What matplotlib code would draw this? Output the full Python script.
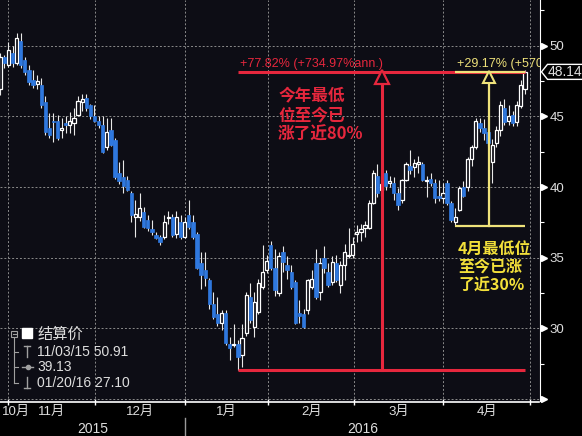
import numpy as np
import matplotlib
matplotlib.use("Agg")
import matplotlib.pyplot as plt
import matplotlib.transforms as mtransforms
from matplotlib.patches import Polygon, Rectangle
from matplotlib.lines import Line2D

plt.rcParams['font.family'] = ['Liberation Sans', 'Noto Sans CJK SC', 'DejaVu Sans']

# 结算价 K线数据 (按交易日排列)
opens = [46.9, 49.2, 48.6, 49.5, 48.8, 50.3, 49.0, 48.3, 47.6, 47.3,
         47.2, 46.0, 44.2, 44.7, 44.7, 44.0, 44.5, 44.4, 44.5, 45.1,
         46.0, 46.3, 45.8, 45.0, 44.7, 44.4, 42.8, 44.0, 43.3, 41.0,
         40.7, 40.5, 39.6, 37.9, 37.9, 38.2, 37.7, 37.0, 36.6, 36.5,
         36.5, 37.8, 37.9, 36.7, 37.5, 36.5, 38.0, 37.5, 36.7, 34.6,
         34.1, 33.4, 31.7, 31.0, 30.4, 31.1, 28.9, 28.8, 28.9, 28.1,
         29.7, 32.2, 30.1, 31.2, 32.9, 34.1, 35.9, 34.3, 32.5, 35.4,
         34.5, 34.0, 33.3, 31.1, 31.0, 31.3, 32.9, 34.6, 32.6, 35.0,
         34.0, 33.3, 34.6, 33.1, 34.5, 35.1, 35.2, 36.7, 36.8, 37.1,
         37.1, 38.9, 40.8, 39.8, 41.0, 40.3, 40.3, 39.6, 39.1, 40.5,
         41.5, 41.4, 41.6, 41.6, 40.4, 40.6, 40.3, 39.4, 39.2, 40.3,
         38.9, 37.5, 38.4, 40.0, 40.0, 42.0, 42.8, 44.5, 44.2, 43.9,
         41.8, 43.1, 44.0, 45.6, 44.7, 45.1, 44.6, 45.7, 46.9]
highs = [49.5, 49.3, 50.25, 50.0, 50.91, 50.9, 49.2, 48.6, 48.3, 47.9,
         47.7, 46.4, 45.2, 45.2, 45.1, 44.9, 45.0, 45.3, 45.6, 46.4,
         46.6, 46.6, 45.9, 45.8, 45.0, 45.0, 44.9, 44.9, 43.5, 41.8,
         41.9, 40.8, 39.7, 39.1, 39.6, 38.6, 38.0, 37.7, 36.8, 36.6,
         38.0, 38.3, 38.1, 38.3, 38.0, 37.9, 39.1, 38.0, 36.8, 35.4,
         35.4, 33.6, 32.6, 32.2, 31.3, 31.3, 29.4, 30.3, 29.2, 30.3,
         32.6, 33.2, 32.6, 33.5, 35.9, 35.2, 36.2, 35.6, 35.4, 35.8,
         35.1, 34.5, 33.4, 32.0, 31.4, 33.5, 34.1, 35.6, 35.0, 35.8,
         34.6, 35.1, 35.2, 34.8, 36.0, 37.1, 36.5, 37.3, 37.4, 37.6,
         39.1, 41.2, 41.6, 40.8, 41.2, 40.8, 40.7, 39.9, 40.6, 41.8,
         42.6, 42.0, 42.2, 41.8, 40.8, 41.0, 40.6, 40.5, 40.3, 40.5,
         39.0, 38.5, 40.1, 40.4, 42.1, 43.0, 44.9, 44.9, 44.8, 44.2,
         43.4, 44.3, 46.1, 46.2, 45.8, 45.4, 46.1, 47.6, 48.3]
lows = [46.5, 48.4, 48.5, 48.5, 48.6, 48.4, 47.9, 47.2, 47.0, 46.9,
        45.6, 43.7, 43.5, 43.2, 43.3, 43.5, 43.8, 43.8, 43.7, 45.0,
        45.4, 45.4, 44.8, 44.6, 44.2, 42.4, 42.6, 42.9, 40.6, 40.2,
        39.6, 39.7, 37.5, 36.5, 37.6, 37.1, 36.9, 36.6, 36.3, 35.9,
        36.3, 37.4, 36.5, 36.4, 36.3, 36.4, 37.0, 36.3, 34.2, 32.8,
        33.0, 31.4, 30.7, 30.2, 29.9, 28.8, 27.8, 28.7, 27.10, 27.25,
        29.5, 30.4, 29.4, 31.0, 32.8, 33.9, 34.1, 32.3, 32.3, 34.0,
        33.5, 32.8, 30.3, 30.4, 30.0, 31.0, 32.8, 32.1, 32.0, 33.9,
        32.9, 33.1, 33.3, 32.5, 33.4, 35.0, 35.0, 36.1, 36.2, 36.5,
        37.0, 38.8, 39.3, 39.4, 39.8, 40.0, 39.1, 38.4, 38.9, 40.4,
        40.9, 40.7, 41.0, 40.4, 39.3, 40.1, 38.9, 39.0, 38.9, 38.7,
        37.5, 37.27, 38.3, 39.3, 39.7, 41.5, 42.7, 43.9, 43.3, 42.9,
        40.3, 42.8, 43.6, 44.4, 44.4, 44.3, 44.3, 45.6, 46.6]
closes = [49.2, 48.8, 49.7, 48.8, 50.5, 48.6, 48.1, 47.4, 47.2, 47.5,
          45.8, 43.9, 43.7, 44.6, 43.5, 44.2, 44.4, 44.7, 44.9, 46.1,
          46.2, 45.6, 45.0, 44.7, 44.4, 42.5, 43.9, 43.0, 40.7, 40.4,
          40.1, 39.8, 38.0, 38.1, 38.5, 37.2, 37.1, 36.8, 36.4, 36.1,
          37.5, 37.9, 36.6, 37.9, 36.5, 37.5, 37.2, 36.5, 34.3, 33.8,
          33.6, 31.7, 30.8, 30.4, 31.1, 29.0, 28.6, 28.9, 28.0, 29.3,
          32.4, 30.6, 31.9, 33.2, 34.0, 34.8, 34.3, 32.7, 35.1, 34.7,
          34.1, 32.9, 30.4, 30.9, 30.1, 33.4, 33.5, 32.2, 34.6, 34.3,
          33.1, 34.7, 33.4, 34.5, 35.4, 35.2, 36.0, 36.8, 37.0, 37.3,
          38.9, 41.0, 39.6, 40.2, 40.1, 40.4, 39.6, 38.7, 40.5, 41.6,
          41.2, 41.7, 41.8, 40.5, 40.5, 40.3, 39.2, 39.2, 39.6, 38.9,
          37.7, 37.9, 39.9, 39.4, 42.0, 42.8, 44.7, 44.2, 43.8, 43.1,
          43.0, 44.0, 45.8, 44.6, 45.0, 44.5, 45.8, 47.2, 48.14]

# 月份分界 (交易日序号) 与标签
month_edges = [1.95, 23.2, 45.1, 65.4, 86.3, 108.0, 129.3]
month_labels = ['10月', '11月', '12月', '1月', '2月', '3月', '4月']
year_labels = ['2015', '2016']

bg = '#0d0d15'
red = '#e6273d'
yel_line = '#efe27a'
yel_text = '#f3e03a'
blue = '#2f78de'
txt = '#dedede'
cjk = ['Noto Sans CJK SC', 'DejaVu Sans']

fig = plt.figure(figsize=(5.82, 4.36), dpi=100, facecolor='black')
ax = fig.add_axes([0, 34.5 / 436, 539.5 / 582, 401.5 / 436], facecolor=bg)

x = np.arange(len(closes))
o = np.array(opens); c = np.array(closes); h = np.array(highs); l = np.array(lows)
up = c >= o
ax.vlines(x, l, h, color='#e8e8e8', lw=0.8, zorder=2)
lo = np.minimum(o, c)
hh = np.maximum(np.abs(c - o), 0.08)
ax.bar(x[up], hh[up], bottom=lo[up], width=0.78, facecolor=bg,
       edgecolor='white', lw=0.9, zorder=3)
ax.bar(x[~up], hh[~up], bottom=lo[~up], width=0.82, color=blue,
       edgecolor=blue, lw=0.5, zorder=3)

ax.set_xlim(-0.05, 131.55)
ax.set_ylim(24.84, 53.22)

# 坐标轴
for s in ['left', 'top']:
    ax.spines[s].set_visible(False)
ax.spines['right'].set_color('white')
ax.spines['bottom'].set_color('white')
ax.spines['bottom'].set_linewidth(1.2)
ax.yaxis.tick_right()
ax.set_yticks(np.arange(25, 51, 5))
ax.set_yticklabels([''] + [str(v) for v in range(30, 51, 5)])
ax.set_yticks(np.arange(27.5, 53, 5), minor=True)
ax.tick_params(axis='y', which='major', length=0, pad=7, labelsize=9.5, labelcolor=txt)
ax.tick_params(axis='y', which='minor', length=3, width=0.8, color='white', direction='out')
ax.set_xticks(month_edges)
ax.set_xticklabels([])
ax.tick_params(axis='x', length=4, width=1, color='white', direction='inout')
ax.grid(True, color='#8a8a8a', ls=(0, (2, 2)), lw=0.7)
ax.set_axisbelow(True)

# y 轴刻度三角
ytri = mtransforms.offset_copy(ax.get_yaxis_transform(), fig=fig, x=4.5, units='dots')
ax.plot([1.0] * 6, np.arange(25, 51, 5), ls='none', marker='>', ms=5,
        color='white', transform=ytri, clip_on=False)

# 月份、年份标签
mids = [(month_edges[i] + month_edges[i + 1]) / 2 for i in range(len(month_edges) - 1)]
ax.annotate(month_labels[0], xy=(0, 0), xycoords='axes fraction', xytext=(2, -10.5),
            textcoords='offset pixels', ha='left', va='center', fontsize=9.5, color=txt)
for m, lab in zip(mids, month_labels[1:]):
    ax.annotate(lab, xy=(m, 0), xycoords=('data', 'axes fraction'), xytext=(0, -10.5),
                textcoords='offset pixels', ha='center', va='center', fontsize=9.5, color=txt)
x0, x1 = ax.get_xlim()
jan = month_edges[2]
for pos, lab in zip([(x0 + jan) / 2, (jan + x1) / 2], year_labels):
    ax.annotate(lab, xy=(pos, 0), xycoords=('data', 'axes fraction'), xytext=(0, -27),
                textcoords='offset pixels', ha='center', va='center', fontsize=10, color=txt)
ax.plot([jan, jan], [-0.041, -0.09], color='#9a9a9a', lw=1,
        transform=ax.get_xaxis_transform(), clip_on=False)

# 最新价标签
last = closes[-1]
tag_tr = mtransforms.Affine2D() + mtransforms.ScaledTranslation(1.0, last, ax.get_yaxis_transform())
tag = Polygon([(2, 0), (8, 7.5), (60, 7.5), (60, -7.5), (8, -7.5)], closed=True,
              facecolor='black', edgecolor='white', lw=1, transform=tag_tr, clip_on=False, zorder=6)
ax.add_patch(tag)
ax.annotate(f'{last:.2f}', xy=(1.0, last), xycoords=('axes fraction', 'data'), xytext=(8, 0),
            textcoords='offset pixels', ha='left', va='center', fontsize=10, color=txt,
            zorder=7, annotation_clip=False)

above = mtransforms.offset_copy(ax.transData, fig=fig, x=2, y=2, units='dots')
tri_r = mtransforms.offset_copy(ax.transData, fig=fig, y=-5.5, units='dots')

# 今年最低位标注
i_low = int(np.argmin(lows))
low = lows[i_low]
red_x = 93.2
ax.plot([i_low, x[-1]], [low, low], color=red, lw=2.2, zorder=5, solid_capstyle='butt')
ax.plot([i_low, x[-1]], [last, last], color=red, lw=2.2, zorder=5, solid_capstyle='butt')
ax.plot([red_x, red_x], [low, last - 0.75], color=red, lw=2.2, zorder=5)
ax.plot([red_x], [last], marker='^', ms=9.5, mfc=bg, mec=red, mew=1.6,
        transform=tri_r, zorder=6)
ax.text(i_low, last, '+77.82% (+734.97%ann.)', transform=above,
        ha='left', va='bottom', fontsize=9, color=red, zorder=6)
ax.text(67.8, 47.1, '今年最低\n位至今已\n涨了近80%', ha='left', va='top', fontsize=12,
        fontweight='bold', color=red, linespacing=1.12, family=cjk, zorder=6)

# 4月最低位标注
i_apr = int(np.argmin(lows[108:])) + 108
apr_low = lows[i_apr]
yel_x = 119.3
ax.plot([i_apr, x[-1]], [apr_low, apr_low], color=yel_line, lw=1.6, zorder=5, solid_capstyle='butt')
ax.plot([i_apr, x[-1]], [last, last], color=yel_line, lw=1.6, zorder=5, solid_capstyle='butt')
ax.plot([yel_x, yel_x], [apr_low, last - 0.75], color=yel_line, lw=1.6, zorder=5)
ax.plot([yel_x], [last], marker='^', ms=9, mfc=bg, mec=yel_line, mew=1.5,
        transform=tri_r, zorder=6)
t = ax.text(i_apr, last, '+29.17% (+570.46%ann.)', transform=above,
            ha='left', va='bottom', fontsize=9, color=yel_line, zorder=6, clip_on=True)
t.set_clip_box(ax.bbox)
ax.text(111.7, 36.2, '4月最低位\n至今已涨\n了近30%', ha='left', va='top', fontsize=11.5,
        fontweight='bold', color=yel_text, linespacing=1.2, family=cjk, zorder=6)

# 图例 (像素坐标)
px = mtransforms.Affine2D().scale(1 / 582, -1 / 436).translate(0, 1) + fig.transFigure
gray = '#a0a0a0'
fig.add_artist(Rectangle((11, 331), 6, 6, fill=False, edgecolor=gray, lw=0.8, transform=px))
fig.add_artist(Line2D([12.5, 15.5], [334, 334], color=gray, lw=0.8, transform=px))
fig.add_artist(Rectangle((22, 328), 10, 10, facecolor='white', edgecolor='white', transform=px))
fig.text(38, 334, '结算价', transform=px, ha='left', va='center', fontsize=11, color=txt,
         family=cjk)
fig.add_artist(Line2D([14, 14], [338, 383], color=gray, lw=0.8, transform=px))
for yy in [352, 367, 383]:
    fig.add_artist(Line2D([14, 18], [yy, yy], color=gray, lw=0.8, transform=px))
fig.add_artist(Line2D([24, 30], [346, 346], color=gray, lw=1, transform=px))
fig.add_artist(Line2D([27, 27], [346, 357], color=gray, lw=1, transform=px))
fig.add_artist(Line2D([22, 33], [367, 367], color=gray, lw=1, transform=px))
fig.add_artist(Line2D([27.5], [367], marker='o', ms=3, color=gray, transform=px))
fig.add_artist(Line2D([27, 27], [377, 388], color=gray, lw=1, transform=px))
fig.add_artist(Line2D([24, 30], [388, 388], color=gray, lw=1, transform=px))
for yy, s in zip([352, 367, 383], ['11/03/15 50.91', '39.13', '01/20/16 27.10']):
    fig.text(37, yy, s, transform=px, ha='left', va='center', fontsize=10, color=txt)

fig.savefig('out.png', dpi=100, facecolor='black')
